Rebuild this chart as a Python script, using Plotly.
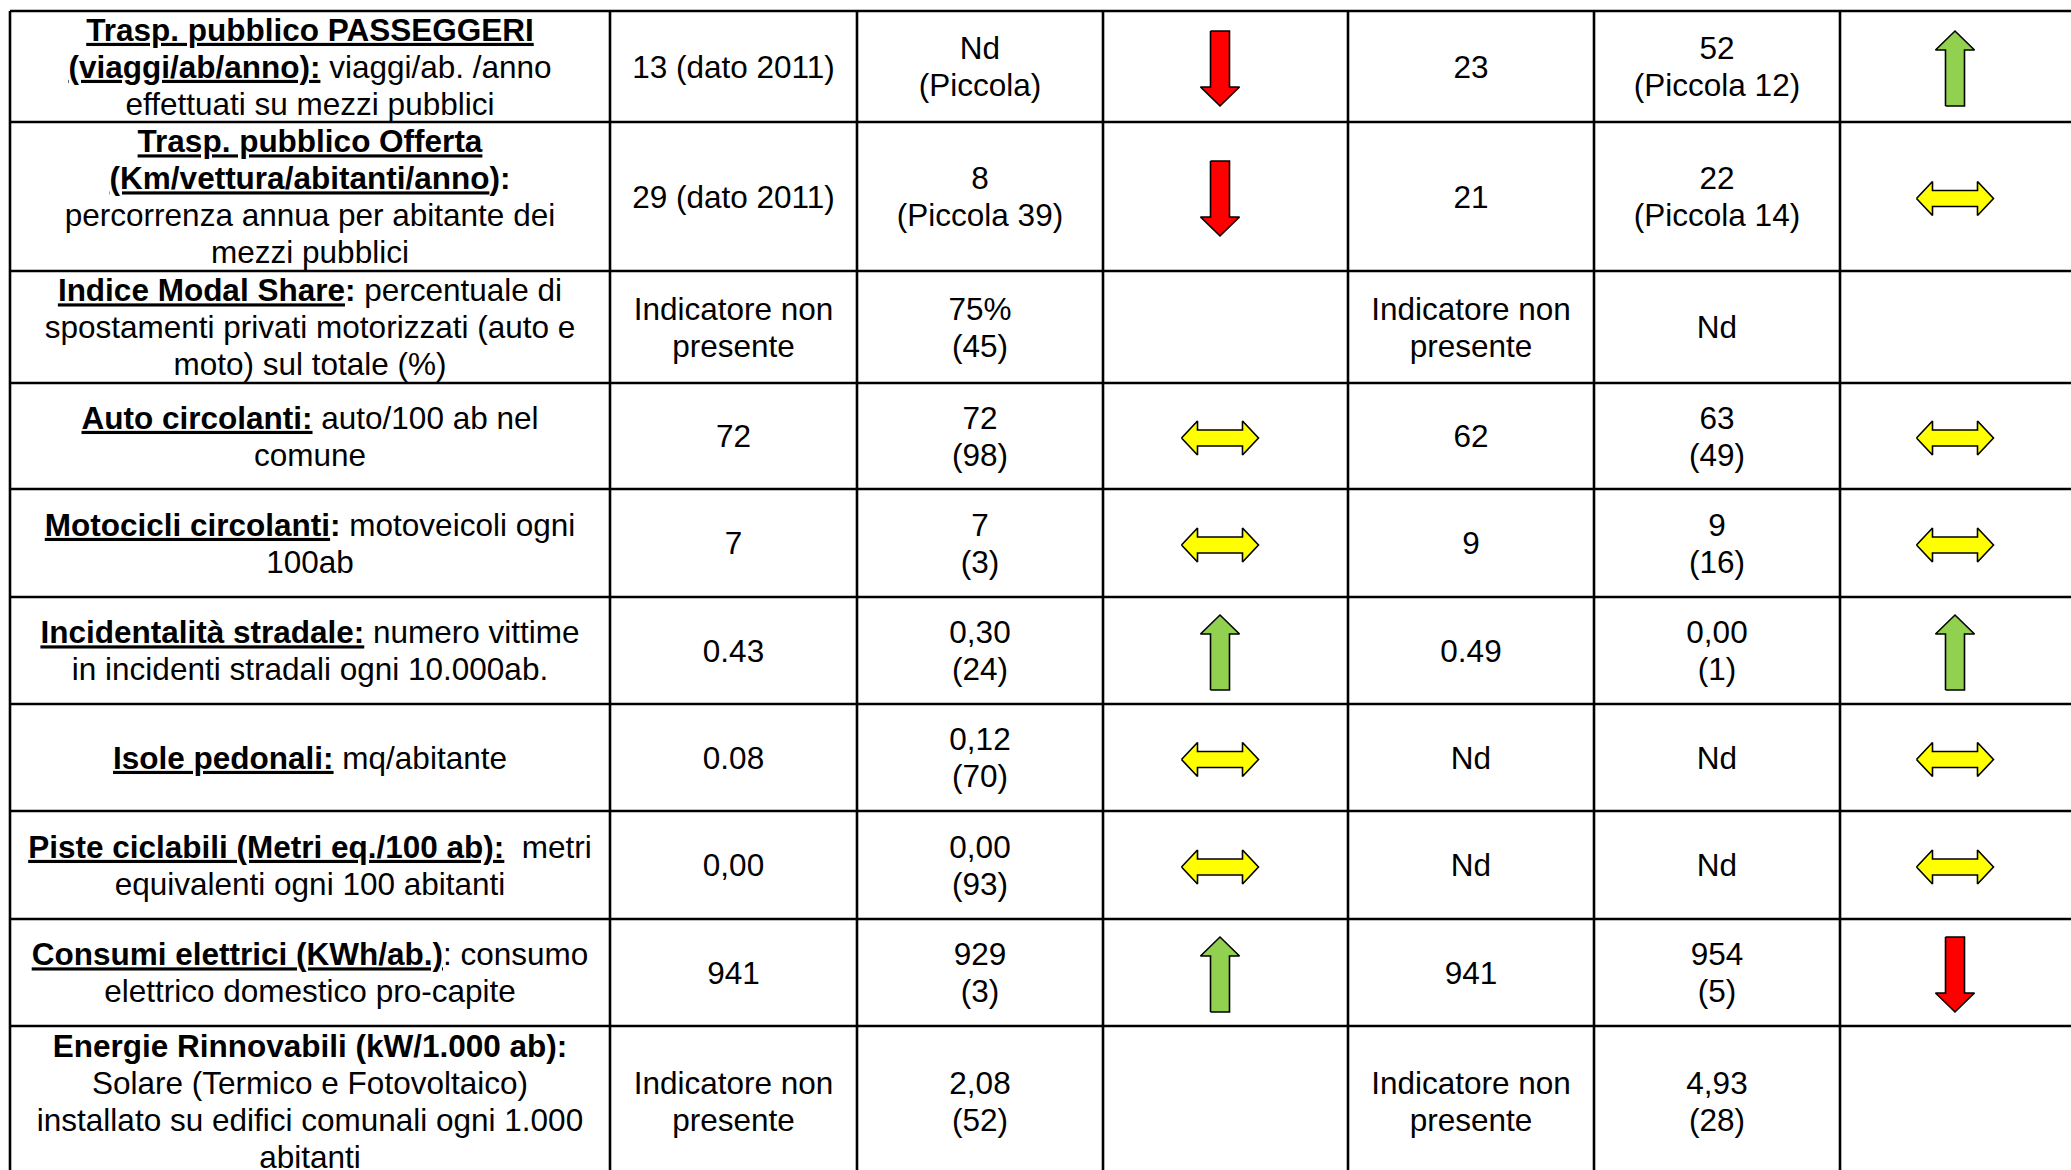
import plotly.graph_objects as go

# ---------------- data ----------------
INDICATORI = [
    ["<b><u>Trasp. pubblico PASSEGGERI</u></b>",
     "<b><u>(viaggi/ab/anno):</u></b> viaggi/ab. /anno",
     "effettuati su mezzi pubblici"],
    ["<b><u>Trasp. pubblico Offerta</u></b>",
     "<b><u>(Km/vettura/abitanti/anno</u>):</b>",
     "percorrenza annua per abitante dei",
     "mezzi pubblici"],
    ["<b><u>Indice Modal Share</u>:</b> percentuale di",
     "spostamenti privati motorizzati (auto e",
     "moto) sul totale (%)"],
    ["<b><u>Auto circolanti:</u></b> auto/100 ab nel",
     "comune"],
    ["<b><u>Motocicli circolanti</u>:</b> motoveicoli ogni",
     "100ab"],
    ["<b><u>Incidentalità stradale:</u></b> numero vittime",
     "in incidenti stradali ogni 10.000ab."],
    ["<b><u>Isole pedonali:</u></b> mq/abitante"],
    ["<b><u>Piste ciclabili (Metri eq./100 ab):</u></b>  metri",
     "equivalenti ogni 100 abitanti"],
    ["<b><u>Consumi elettrici (KWh/ab.)</u></b>: consumo",
     "elettrico domestico pro-capite"],
    ["<b>Energie Rinnovabili (kW/1.000 ab):</b>",
     "Solare (Termico e Fotovoltaico)",
     "installato su edifici comunali ogni 1.000",
     "abitanti"],
]

VALORE_COMUNE_1 = [["13 (dato 2011)"], ["29 (dato 2011)"], ["Indicatore non", "presente"],
                   ["72"], ["7"], ["0.43"], ["0.08"], ["0,00"], ["941"],
                   ["Indicatore non", "presente"]]
CONFRONTO_1 = [["Nd", "(Piccola)"], ["8", "(Piccola 39)"], ["75%", "(45)"], ["72", "(98)"],
               ["7", "(3)"], ["0,30", "(24)"], ["0,12", "(70)"], ["0,00", "(93)"],
               ["929", "(3)"], ["2,08", "(52)"]]
TREND_1 = ["down", "down", None, "both", "both", "up", "both", "both", "up", None]

VALORE_COMUNE_2 = [["23"], ["21"], ["Indicatore non", "presente"], ["62"], ["9"], ["0.49"],
                   ["Nd"], ["Nd"], ["941"], ["Indicatore non", "presente"]]
CONFRONTO_2 = [["52", "(Piccola 12)"], ["22", "(Piccola 14)"], ["Nd"], ["63", "(49)"],
               ["9", "(16)"], ["0,00", "(1)"], ["Nd"], ["Nd"], ["954", "(5)"],
               ["4,93", "(28)"]]
TREND_2 = ["up", "both", None, "both", "both", "up", "both", "both", "down", None]

# ---------------- layout constants ----------------
W, H = 2071, 1170
COL_EDGES = [10, 610, 857, 1103, 1348, 1594, 1840, 2086]
ROW_EDGES = [11, 122, 271, 383, 489, 597, 704, 811, 919, 1026, 1177]
LINE_H = 37
TEXT_DY = 3.5
FONT = "Liberation Sans, Arial, Helvetica, sans-serif"
FSIZE = 31.5
ARROW_X = {3: 1220, 6: 1955}
COLORS = {"up": "#92D050", "down": "#FF0000", "both": "#FFFF00"}

fig = go.Figure()

# grid lines
for x in COL_EDGES[:-1]:
    fig.add_shape(type="line", x0=x, x1=x, y0=ROW_EDGES[0], y1=ROW_EDGES[-1] + 20,
                  xref="x", yref="y", line=dict(color="black", width=2.6))
for y in ROW_EDGES[:-1]:
    fig.add_shape(type="line", x0=COL_EDGES[0], x1=COL_EDGES[-1] + 20, y0=y, y1=y,
                  xref="x", yref="y", line=dict(color="black", width=2.6))

# text
tx, ty, tt = [], [], []
text_cols = [(0, INDICATORI), (1, VALORE_COMUNE_1), (2, CONFRONTO_1),
             (4, VALORE_COMUNE_2), (5, CONFRONTO_2)]
for ci, col in text_cols:
    xc = (COL_EDGES[ci] + COL_EDGES[ci + 1]) / 2
    for ri, lines in enumerate(col):
        yc = (ROW_EDGES[ri] + ROW_EDGES[ri + 1]) / 2 + TEXT_DY
        n = len(lines)
        for li, s in enumerate(lines):
            tx.append(xc)
            ty.append(yc + (li - (n - 1) / 2) * LINE_H)
            tt.append(s)

fig.add_trace(go.Scatter(x=tx, y=ty, text=tt, mode="text", textposition="middle center",
                         textfont=dict(family=FONT, size=FSIZE, color="black"),
                         hoverinfo="skip", showlegend=False, cliponaxis=False))


def arrow_poly(kind, xc, yc):
    if kind in ("up", "down"):
        L, sw, hw, hl = 75, 19, 39, 19
        s = -1 if kind == "up" else 1  # direction of tip (y grows downward)
        tip = yc + s * L / 2
        base = yc - s * L / 2
        hb = tip - s * hl
        xs = [xc - sw / 2, xc + sw / 2, xc + sw / 2, xc + hw / 2, xc, xc - hw / 2, xc - sw / 2, xc - sw / 2]
        ys = [base, base, hb, hb, tip, hb, hb, base]
    else:
        L, hl, hh, sh = 77, 16, 17, 8
        l, r = xc - L / 2, xc + L / 2
        xs = [l, l + hl, l + hl, r - hl, r - hl, r, r - hl, r - hl, l + hl, l + hl, l]
        ys = [yc, yc - hh, yc - sh, yc - sh, yc - hh, yc, yc + hh, yc + sh, yc + sh, yc + hh, yc]
    return xs, ys


for ci, trend in ((3, TREND_1), (6, TREND_2)):
    for ri, kind in enumerate(trend):
        if kind is None:
            continue
        yc = (ROW_EDGES[ri] + ROW_EDGES[ri + 1]) / 2 + 2
        xs, ys = arrow_poly(kind, ARROW_X[ci], yc)
        fig.add_trace(go.Scatter(x=xs, y=ys, mode="lines", fill="toself",
                                 fillcolor=COLORS[kind], line=dict(color="black", width=1.6),
                                 hoverinfo="skip", showlegend=False))

fig.update_layout(
    width=W, height=H, margin=dict(l=0, r=0, t=0, b=0),
    paper_bgcolor="white", plot_bgcolor="white",
    xaxis=dict(range=[0, W], visible=False, fixedrange=True),
    yaxis=dict(range=[H, 0], visible=False, fixedrange=True),
)

fig.write_html("out.html", config={"displayModeBar": False},
               post_script="document.body.style.margin='0';document.body.style.overflow='hidden';")
